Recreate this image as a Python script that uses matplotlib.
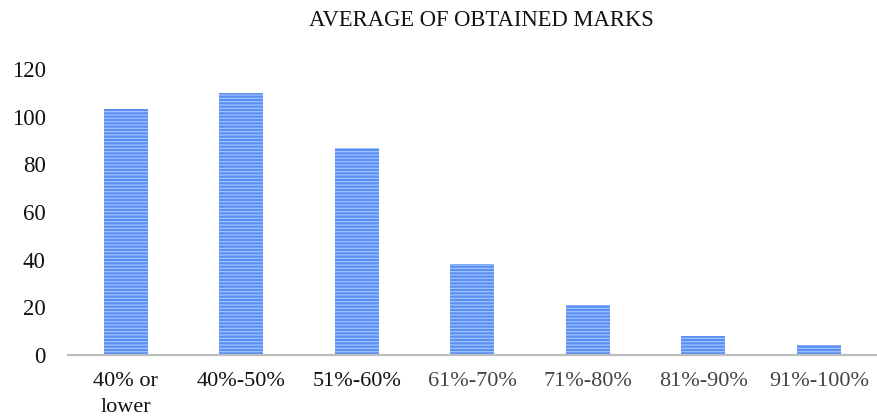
import matplotlib
matplotlib.use("Agg")
import matplotlib.pyplot as plt

categories = ["40% or\nlower", "40%-50%", "51%-60%", "61%-70%", "71%-80%", "81%-90%", "91%-100%"]
values = [103, 110, 87, 38, 21, 8, 4]
label_colors = ["#111111", "#111111", "#111111", "#444444", "#444444", "#444444", "#444444"]
y_ticks = [0, 20, 40, 60, 80, 100, 120]

plt.rcParams["font.family"] = ["Liberation Serif", "DejaVu Serif"]
plt.rcParams["hatch.linewidth"] = 0.8

fig = plt.figure(figsize=(8.77, 4.20), dpi=100)
ax = fig.add_axes([0.0775, 0.1548, 0.922, 0.681])

x = list(range(len(categories)))
ax.bar(x, values, width=0.38, color="#5a8ff6", edgecolor="#a8c6fc",
       linewidth=0, hatch="-----", zorder=2)

ax.set_xlim(-0.5, len(categories) - 0.5)
ax.set_ylim(0, 120)
ax.set_yticks(y_ticks)
ax.set_yticklabels([str(t) for t in y_ticks], fontsize=16.5, color="#111111")
ax.set_xticks(x)
ax.set_xticklabels(categories, fontsize=16, linespacing=1.5)
for lbl, c in zip(ax.get_xticklabels(), label_colors):
    lbl.set_color(c)

ax.tick_params(axis="both", length=0)
ax.tick_params(axis="y", pad=16)
ax.tick_params(axis="x", pad=12)

for side in ["top", "right", "left"]:
    ax.spines[side].set_visible(False)
ax.spines["bottom"].set_color("#bdbdbd")
ax.spines["bottom"].set_linewidth(1.6)
ax.spines["bottom"].set_zorder(3)

fig.text(0.549, 0.95, "AVERAGE OF OBTAINED MARKS", ha="center", va="center",
         fontsize=16.3, color="#111111")

fig.savefig("out.png", dpi=100)
